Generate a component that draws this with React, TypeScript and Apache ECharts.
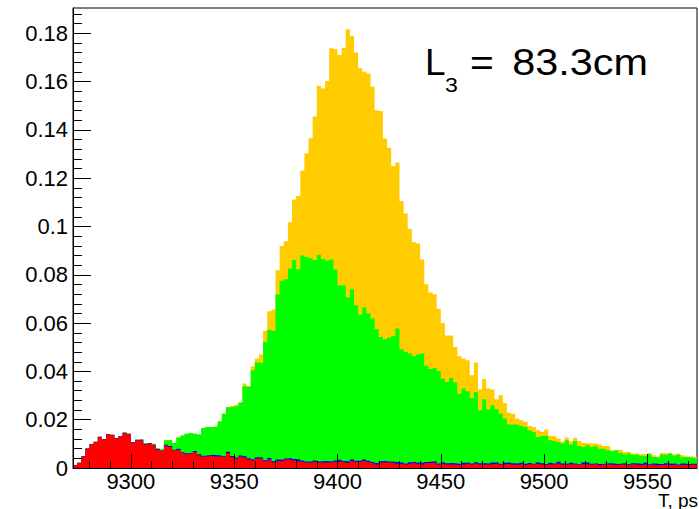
import { useEffect, useRef } from "react";
import * as echarts from "echarts";

const FONT = "'Liberation Sans', Arial, Helvetica, sans-serif";

// histogram binning (ps)
const binStart = 9272;
const binWidth = 2;
const xMin = 9272;
const xMax = 9574;
const yMax = 0.1905;

const xMajorTicks = [9300, 9350, 9400, 9450, 9500, 9550];
const xMinorTicks = [
  9280, 9290, 9310, 9320, 9330, 9340, 9360, 9370, 9380, 9390, 9410, 9420, 9430, 9440,
  9460, 9470, 9480, 9490, 9510, 9520, 9530, 9540, 9560, 9570,
];
const yMajorTicks = [0, 0.02, 0.04, 0.06, 0.08, 0.1, 0.12, 0.14, 0.16, 0.18];
const yMinorTicks = [
  0.004, 0.008, 0.012, 0.016, 0.024, 0.028, 0.032, 0.036, 0.044, 0.048, 0.052, 0.056,
  0.064, 0.068, 0.072, 0.076, 0.084, 0.088, 0.092, 0.096, 0.104, 0.108, 0.112, 0.116,
  0.124, 0.128, 0.132, 0.136, 0.144, 0.148, 0.152, 0.156, 0.164, 0.168, 0.172, 0.176,
  0.184, 0.188,
];

// red component (bottom of stack)
const redTop = [
  0.0011, 0.0021, 0.0048, 0.0080, 0.0097, 0.0108, 0.0128, 0.0118, 0.0140, 0.0137,
  0.0122, 0.0131, 0.0144, 0.0140, 0.0104, 0.0115, 0.0115, 0.0097, 0.0101, 0.0094,
  0.0076, 0.0070, 0.0093, 0.0087, 0.0073, 0.0076, 0.0062, 0.0057, 0.0060, 0.0066,
  0.0053, 0.0048, 0.0048, 0.0051, 0.0048, 0.0048, 0.0046, 0.0062, 0.0046, 0.0039,
  0.0048, 0.0043, 0.0035, 0.0032, 0.0039, 0.0039, 0.0028, 0.0035, 0.0023, 0.0029,
  0.0029, 0.0035, 0.0035, 0.0032, 0.0028, 0.0026, 0.0023, 0.0021, 0.0026, 0.0023,
  0.0023, 0.0023, 0.0023, 0.0026, 0.0028, 0.0025, 0.0022, 0.0029, 0.0026, 0.0026,
  0.0029, 0.0025, 0.0021, 0.0015, 0.0023, 0.0023, 0.0023, 0.0021, 0.0018, 0.0018,
  0.0015, 0.0018, 0.0021, 0.0018, 0.0015, 0.0021, 0.0021, 0.0023, 0.0015, 0.0018,
  0.0015, 0.0015, 0.0015, 0.0012, 0.0015, 0.0018, 0.0015, 0.0018, 0.0015, 0.0014,
  0.0015, 0.0017, 0.0019, 0.0014, 0.0016, 0.0018, 0.0013, 0.0015, 0.0017, 0.0012,
  0.0016, 0.0014, 0.0018, 0.0015, 0.0013, 0.0016, 0.0014, 0.0019, 0.0015, 0.0013,
  0.0016, 0.0014, 0.0012, 0.0017, 0.0015, 0.0013, 0.0016, 0.0011, 0.0014, 0.0016,
  0.0013, 0.0012, 0.0015, 0.0014, 0.0011, 0.0016, 0.0013, 0.0012, 0.0015, 0.0012,
  0.0014, 0.0011, 0.0013, 0.0015, 0.0012, 0.0014, 0.0011, 0.0013, 0.0012, 0.0014,
  0.0013,
];

// blue component (thin layer on top of red)
const blueLayer = [
  0.0001, 0.0001, 0.0001, 0.0001, 0.0001, 0.0001, 0.0001, 0.0001, 0.0001, 0.0001,
  0.0002, 0.0001, 0.0002, 0.0002, 0.0003, 0.0002, 0.0003, 0.0002, 0.0003, 0.0002,
  0.0003, 0.0002, 0.0003, 0.0004, 0.0003, 0.0004, 0.0003, 0.0004, 0.0003, 0.0004,
  0.0004, 0.0003, 0.0005, 0.0004, 0.0005, 0.0004, 0.0003, 0.0005, 0.0004, 0.0005,
  0.0004, 0.0006, 0.0005, 0.0004, 0.0006, 0.0005, 0.0004, 0.0006, 0.0005, 0.0006,
  0.0005, 0.0004, 0.0006, 0.0005, 0.0007, 0.0005, 0.0004, 0.0006, 0.0005, 0.0004,
  0.0006, 0.0005, 0.0004, 0.0005, 0.0006, 0.0004, 0.0005, 0.0006, 0.0004, 0.0005,
  0.0006, 0.0005, 0.0004, 0.0006, 0.0005, 0.0007, 0.0004, 0.0005, 0.0006, 0.0005,
  0.0004, 0.0006, 0.0005, 0.0005, 0.0007, 0.0004, 0.0006, 0.0005, 0.0004, 0.0006,
  0.0005, 0.0006, 0.0004, 0.0005, 0.0007, 0.0005, 0.0004, 0.0006, 0.0005, 0.0006,
  0.0004, 0.0006, 0.0005, 0.0004, 0.0006, 0.0005, 0.0007, 0.0004, 0.0005, 0.0006,
  0.0005, 0.0004, 0.0006, 0.0005, 0.0004, 0.0006, 0.0005, 0.0007, 0.0004, 0.0005,
  0.0006, 0.0005, 0.0004, 0.0006, 0.0008, 0.0005, 0.0004, 0.0006, 0.0005, 0.0004,
  0.0006, 0.0005, 0.0004, 0.0006, 0.0005, 0.0004, 0.0006, 0.0005, 0.0007, 0.0004,
  0.0005, 0.0006, 0.0004, 0.0005, 0.0006, 0.0005, 0.0004, 0.0006, 0.0005, 0.0004,
  0.0005,
];

// cumulative height up to the green component
const greenTop = [
  0.0012, 0.0022, 0.0049, 0.0081, 0.0098, 0.0109, 0.0129, 0.0119, 0.0141, 0.0138,
  0.0124, 0.0132, 0.0147, 0.0142, 0.0107, 0.0117, 0.0118, 0.0104, 0.0104, 0.0100,
  0.0082, 0.0078, 0.0115, 0.0117, 0.0104, 0.0126, 0.0135, 0.0142, 0.0145, 0.0142,
  0.0139, 0.0166, 0.0170, 0.0170, 0.0172, 0.0193, 0.0225, 0.0252, 0.0253, 0.0256,
  0.0270, 0.0339, 0.0336, 0.0405, 0.0437, 0.0435, 0.0522, 0.0573, 0.0568, 0.0718,
  0.0775, 0.0782, 0.0826, 0.0861, 0.0823, 0.0880, 0.0874, 0.0869, 0.0861, 0.0883,
  0.0866, 0.0858, 0.0863, 0.0822, 0.0757, 0.0757, 0.0706, 0.0740, 0.0674, 0.0636,
  0.0665, 0.0640, 0.0619, 0.0575, 0.0543, 0.0533, 0.0540, 0.0546, 0.0578, 0.0492,
  0.0481, 0.0474, 0.0464, 0.0470, 0.0474, 0.0423, 0.0410, 0.0414, 0.0402, 0.0370,
  0.0356, 0.0373, 0.0354, 0.0308, 0.0329, 0.0318, 0.0290, 0.0315, 0.0239, 0.0285,
  0.0243, 0.0260, 0.0243, 0.0225, 0.0205, 0.0180, 0.0180, 0.0180, 0.0174, 0.0170,
  0.0156, 0.0149, 0.0128, 0.0133, 0.0135, 0.0115, 0.0112, 0.0108, 0.0101, 0.0115,
  0.0097, 0.0111, 0.0091, 0.0087, 0.0094, 0.0087, 0.0090, 0.0080, 0.0080, 0.0073,
  0.0069, 0.0073, 0.0062, 0.0057, 0.0060, 0.0055, 0.0055, 0.0051, 0.0050, 0.0057,
  0.0046, 0.0043, 0.0055, 0.0054, 0.0060, 0.0051, 0.0055, 0.0043, 0.0046, 0.0043,
  0.0040,
];

// cumulative height of the whole stack (yellow on top)
const yellowTop = [
  0.0012, 0.0022, 0.0049, 0.0081, 0.0098, 0.0109, 0.0129, 0.0119, 0.0141, 0.0138,
  0.0124, 0.0132, 0.0147, 0.0142, 0.0107, 0.0117, 0.0118, 0.0104, 0.0104, 0.0100,
  0.0082, 0.0078, 0.0115, 0.0117, 0.0104, 0.0126, 0.0135, 0.0142, 0.0145, 0.0142,
  0.0139, 0.0166, 0.0170, 0.0170, 0.0172, 0.0193, 0.0225, 0.0253, 0.0258, 0.0262,
  0.0272, 0.0350, 0.0340, 0.0421, 0.0453, 0.0470, 0.0568, 0.0649, 0.0656, 0.0819,
  0.0919, 0.0939, 0.1018, 0.1112, 0.1126, 0.1232, 0.1303, 0.1366, 0.1456, 0.1583,
  0.1572, 0.1603, 0.1738, 0.1734, 0.1710, 0.1740, 0.1817, 0.1789, 0.1721, 0.1655,
  0.1641, 0.1634, 0.1579, 0.1482, 0.1478, 0.1365, 0.1326, 0.1251, 0.1265, 0.1106,
  0.1054, 0.0990, 0.0935, 0.0930, 0.0863, 0.0761, 0.0727, 0.0720, 0.0660, 0.0601,
  0.0549, 0.0549, 0.0501, 0.0463, 0.0453, 0.0446, 0.0384, 0.0437, 0.0325, 0.0369,
  0.0329, 0.0325, 0.0285, 0.0301, 0.0269, 0.0229, 0.0225, 0.0205, 0.0198, 0.0191,
  0.0174, 0.0170, 0.0156, 0.0149, 0.0159, 0.0133, 0.0131, 0.0122, 0.0108, 0.0126,
  0.0111, 0.0124, 0.0112, 0.0104, 0.0105, 0.0101, 0.0101, 0.0097, 0.0091, 0.0090,
  0.0073, 0.0073, 0.0076, 0.0066, 0.0066, 0.0060, 0.0060, 0.0057, 0.0057, 0.0062,
  0.0053, 0.0048, 0.0062, 0.0060, 0.0062, 0.0057, 0.0060, 0.0053, 0.0048, 0.0048,
  0.0046,
];

const blueTop = redTop.map((r, i) => r + blueLayer[i]);

function stepData(vals: number[]) {
  const pts = vals.map((v, i) => [binStart + i * binWidth, v]);
  pts.push([binStart + vals.length * binWidth, vals[vals.length - 1]]);
  return pts;
}

function histSeries(name: string, vals: number[], color: string) {
  return {
    type: "line",
    name,
    data: stepData(vals),
    step: "end",
    symbol: "none",
    showSymbol: false,
    silent: true,
    xAxisIndex: 0,
    yAxisIndex: 0,
    lineStyle: { width: 0, color },
    itemStyle: { color },
    areaStyle: { color, opacity: 1 },
    z: 2,
  };
}

export default function App() {
  const ref = useRef<HTMLDivElement>(null);

  useEffect(() => {
    if (!ref.current) return;
    const chart = echarts.init(ref.current, null, { renderer: "svg" });
    const axisBase = {
      type: "value",
      splitLine: { show: false },
      z: 10,
    };
    const option = {
      animation: false,
      grid: {
        left: 73,
        right: 2,
        top: 8,
        bottom: 41,
        show: true,
        borderColor: "#000",
        borderWidth: 1,
        backgroundColor: "transparent",
      },
      xAxis: [
        {
          ...axisBase,
          min: xMin,
          max: xMax,
          position: "bottom",
          axisLine: { show: true, onZero: false, lineStyle: { color: "#000", width: 1 } },
          axisTick: {
            show: true,
            inside: true,
            length: 14,
            customValues: xMajorTicks,
            lineStyle: { color: "#000", width: 1 },
          },
          axisLabel: {
            show: true,
            customValues: xMajorTicks,
            formatter: (v: number) => String(v),
            margin: 2,
            fontSize: 22,
            color: "#000",
            fontFamily: FONT,
          },
        },
        {
          ...axisBase,
          min: xMin,
          max: xMax,
          position: "bottom",
          axisLine: { show: false, onZero: false },
          axisTick: {
            show: true,
            inside: true,
            length: 7,
            customValues: xMinorTicks,
            lineStyle: { color: "#000", width: 1 },
          },
          axisLabel: { show: false },
        },
      ],
      yAxis: [
        {
          ...axisBase,
          min: 0,
          max: yMax,
          position: "left",
          axisLine: { show: true, onZero: false, lineStyle: { color: "#000", width: 1 } },
          axisTick: {
            show: true,
            inside: true,
            length: 18,
            customValues: yMajorTicks,
            lineStyle: { color: "#000", width: 1 },
          },
          axisLabel: {
            show: true,
            customValues: yMajorTicks,
            formatter: (v: number) => String(v),
            margin: 5,
            fontSize: 22,
            color: "#000",
            fontFamily: FONT,
          },
        },
        {
          ...axisBase,
          min: 0,
          max: yMax,
          position: "left",
          axisLine: { show: false, onZero: false },
          axisTick: {
            show: true,
            inside: true,
            length: 9,
            customValues: yMinorTicks,
            lineStyle: { color: "#000", width: 1 },
          },
          axisLabel: { show: false },
        },
      ],
      series: [
        histSeries("yellow", yellowTop, "#ffcc00"),
        histSeries("green", greenTop, "#00ff00"),
        histSeries("blue", blueTop, "#0000ff"),
        histSeries("red", redTop, "#ff0000"),
      ],
      graphic: [
        {
          type: "text",
          x: 425,
          y: 62,
          style: { text: "L", font: `37px ${FONT}`, fill: "#000", textAlign: "left", textVerticalAlign: "middle" },
        },
        {
          type: "text",
          x: 445,
          y: 84.4,
          scaleX: 1.1,
          style: { text: "3", font: `21px ${FONT}`, fill: "#000", textAlign: "left", textVerticalAlign: "middle" },
        },
        {
          type: "text",
          x: 470,
          y: 62,
          scaleX: 1.1,
          style: { text: "=", font: `37px ${FONT}`, fill: "#000", textAlign: "left", textVerticalAlign: "middle" },
        },
        {
          type: "text",
          x: 648,
          y: 62,
          scaleX: 1.12,
          style: { text: "83.3cm", font: `37px ${FONT}`, fill: "#000", textAlign: "right", textVerticalAlign: "middle" },
        },
        {
          type: "text",
          x: 698,
          y: 500,
          style: { text: "T, ps", font: `19px ${FONT}`, fill: "#000", textAlign: "right", textVerticalAlign: "middle" },
        },
      ],
    };
    chart.setOption(option as any);
    return () => chart.dispose();
  }, []);

  return (
    <div
      ref={ref}
      style={{ position: "fixed", left: 0, top: 0, width: 699, height: 509, background: "#fff" }}
    />
  );
}
